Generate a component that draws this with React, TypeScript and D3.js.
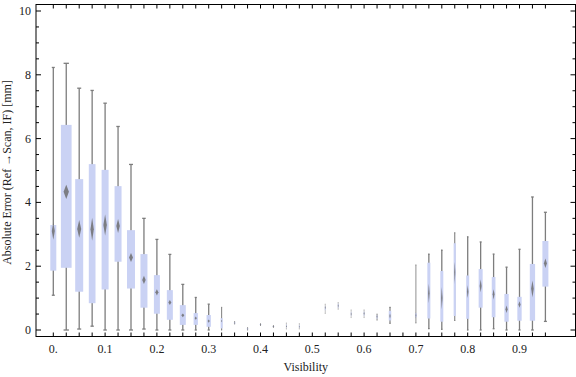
import React from "react";
import * as d3 from "d3";

// Visibility categories (one box each)
const visibility = [
  0, 0.025, 0.05, 0.075, 0.1, 0.125, 0.15, 0.175, 0.2, 0.225,
  0.25, 0.275, 0.3, 0.325, 0.35, 0.375, 0.4, 0.425, 0.45, 0.475,
  0.5, 0.525, 0.55, 0.575, 0.6, 0.625, 0.65, 0.675, 0.7, 0.725,
  0.75, 0.775, 0.8, 0.825, 0.85, 0.875, 0.9, 0.925, 0.95,
];

const whiskerLow = [
  1.09, 0, 0.03, 0.12, 0, 0, 0, 0.03, 0, 0,
  0, 0, 0, 0, 0.19, 0, 0.15, 0.09, 0.03, 0.03,
  null, 0.52, 0.65, 0.39, 0.39, 0.31, 0.21, null, 0.22, 0.04,
  0.02, 0.3, 0, 0, 0.04, 0, 0, 0, 0.27,
];
const q1 = [
  1.86, 1.95, 1.2, 0.84, 1.27, 2.14, 1.3, 0.7, 0.51, 0.32,
  0.16, 0.16, 0.1, 0.05, 0.2, 0.02, 0.16, 0.1, 0.08, 0.07,
  null, 0.62, 0.7, 0.45, 0.45, 0.36, 0.3, null, 0.4, 0.36,
  0.26, 0.44, 0.35, 0.7, 0.4, 0.26, 0.29, 0.29, 1.36,
];
const median = [
  3.1, 4.33, 3.17, 3.16, 3.29, 3.26, 2.27, 1.57, 1.18, 0.86,
  0.46, 0.37, 0.28, 0.28, 0.22, 0.04, 0.17, 0.11, 0.12, 0.1,
  null, 0.7, 0.76, 0.5, 0.52, 0.42, 0.44, null, 0.46, 1.15,
  1.0, 1.8, 1.2, 1.38, 1.12, 0.65, 0.8, 1.29, 2.09,
];
const q3 = [
  3.29, 6.43, 4.73, 5.2, 5.02, 4.51, 3.13, 2.38, 1.72, 1.25,
  0.78, 0.53, 0.47, 0.37, 0.24, 0.06, 0.18, 0.12, 0.17, 0.15,
  null, 0.74, 0.82, 0.56, 0.57, 0.46, 0.6, null, 0.53, 2.11,
  1.85, 2.72, 1.71, 1.91, 1.66, 1.13, 1.04, 2.07, 2.79,
];
const whiskerHigh = [
  8.23, 8.36, 7.58, 7.51, 7.11, 6.38, 5.19, 3.5, 2.84, 2.37,
  1.43, 1.02, 0.81, 0.71, 0.26, 0.07, 0.19, 0.13, 0.22, 0.2,
  null, 0.81, 0.86, 0.63, 0.63, 0.5, 0.71, null, 2.04, 2.38,
  2.5, 3.05, 2.92, 2.76, 2.38, 1.97, 2.53, 4.17, 3.69,
];
// half-height of the median confidence diamond
const medianCI = [
  0.27, 0.22, 0.28, 0.36, 0.33, 0.22, 0.14, 0.13, 0.1, 0.08,
  0.06, 0.05, 0.05, 0.04, 0.03, 0.03, 0.03, 0.03, 0.03, 0.03,
  null, 0.05, 0.05, 0.05, 0.05, 0.05, 0.08, null, 0.1, 0.3,
  0.35, 0.35, 0.2, 0.2, 0.16, 0.12, 0.1, 0.26, 0.15,
];
// relative sample weight (sets box width)
const sampleWeight = [
  60, 107, 80, 67, 70, 70, 80, 70, 60, 60,
  60, 43, 43, 20, 15, 15, 20, 20, 8, 8,
  null, 10, 10, 8, 10, 12, 25, null, 15, 30,
  30, 22, 30, 40, 37, 43, 43, 53, 60,
];

const xTickValues = [0, 0.1, 0.2, 0.3, 0.4, 0.5, 0.6, 0.7, 0.8, 0.9];
const xTickLabels = ["0.", "0.1", "0.2", "0.3", "0.4", "0.5", "0.6", "0.7", "0.8", "0.9"];
const yMajorTicks = [0, 2, 4, 6, 8, 10];
const yMinorTicks = [
  0, 0.5, 1, 1.5, 2, 2.5, 3, 3.5, 4, 4.5, 5, 5.5, 6, 6.5, 7, 7.5, 8, 8.5, 9, 9.5, 10,
];

const W = 576;
const H = 377;
const frame = { left: 36, right: 575.5, top: 4.5, bottom: 336.5 };

export default function App() {
  const x = d3.scaleLinear().domain([0, 0.95]).range([53.3, 545.4]);
  const y = d3.scaleLinear().domain([0, 10]).range([330, 11]);
  const w = d3.scaleLinear().domain([0, 107]).range([0, 10.7]);

  const font = "'Liberation Serif', 'Times New Roman', serif";
  const boxFill = "#cad2f4";
  const whiskerColor = "#7d7d7d";

  const items = visibility.map((v, i) => ({
    v,
    lo: whiskerLow[i],
    a: q1[i],
    m: median[i],
    b: q3[i],
    hi: whiskerHigh[i],
    ci: medianCI[i],
    n: sampleWeight[i],
  }));

  return (
    <svg
      width={W}
      height={H}
      style={{ position: "absolute", left: 0, top: 0, background: "#fff" }}
    >
      <rect x={0} y={0} width={W} height={H} fill="#fff" />
      {items.map((d, i) => {
        if (d.m == null || d.n == null) return null;
        const cx = x(d.v);
        const bw = w(d.n);
        const cap = Math.max(bw * 0.5, 1.0);
        const dw = Math.max(bw * 0.5, 0.8);
        const sw = Math.min(1.3, 0.4 + bw * 0.3);
        const wc = bw < 1.2 ? "#a8a8a8" : whiskerColor;
        return (
          <g key={i}>
            <line
              x1={cx}
              x2={cx}
              y1={y(d.lo)}
              y2={y(d.hi)}
              stroke={wc}
              strokeWidth={sw}
            />
            <line
              x1={cx - cap / 2}
              x2={cx + cap / 2}
              y1={y(d.hi)}
              y2={y(d.hi)}
              stroke={wc}
              strokeWidth={sw}
            />
            <line
              x1={cx - cap / 2}
              x2={cx + cap / 2}
              y1={y(d.lo)}
              y2={y(d.lo)}
              stroke={wc}
              strokeWidth={sw}
            />
            <rect
              x={cx - bw / 2}
              y={y(d.b)}
              width={bw}
              height={Math.max(y(d.a) - y(d.b), 0.6)}
              fill={boxFill}
            />
            <polygon
              points={[
                [cx, y(d.m + d.ci)],
                [cx + dw / 2, y(d.m)],
                [cx, y(d.m - d.ci)],
                [cx - dw / 2, y(d.m)],
              ]
                .map((p) => p.join(","))
                .join(" ")}
              fill="#6f6f6f"
              fillOpacity={0.85}
            />
          </g>
        );
      })}

      {/* frame */}
      <rect
        x={frame.left}
        y={frame.top}
        width={frame.right - frame.left}
        height={frame.bottom - frame.top}
        fill="none"
        stroke="#000"
        strokeWidth={1}
      />

      {/* x ticks at each category, bottom and top */}
      {visibility.map((v, i) => (
        <g key={"xt" + i}>
          <line x1={x(v)} x2={x(v)} y1={frame.bottom} y2={frame.bottom - 4} stroke="#000" />
          <line x1={x(v)} x2={x(v)} y1={frame.top} y2={frame.top + 4} stroke="#000" />
        </g>
      ))}
      {xTickValues.map((v, i) => (
        <text
          key={"xl" + i}
          x={x(v)}
          y={353}
          textAnchor="middle"
          fontFamily={font}
          fontSize={12}
          fill="#222"
        >
          {xTickLabels[i]}
        </text>
      ))}

      {/* y ticks */}
      {yMinorTicks.map((v, i) => {
        const major = yMajorTicks.includes(v);
        const len = major ? 5 : 3;
        return (
          <g key={"yt" + i}>
            <line x1={frame.left} x2={frame.left + len} y1={y(v)} y2={y(v)} stroke="#000" />
            <line x1={frame.right} x2={frame.right - len} y1={y(v)} y2={y(v)} stroke="#000" />
          </g>
        );
      })}
      {yMajorTicks.map((v, i) => (
        <text
          key={"yl" + i}
          x={31}
          y={y(v) + 4}
          textAnchor="end"
          fontFamily={font}
          fontSize={12}
          fill="#222"
        >
          {v}
        </text>
      ))}

      {/* axis labels */}
      <text
        x={(frame.left + frame.right) / 2}
        y={371}
        textAnchor="middle"
        fontFamily={font}
        fontSize={12}
        fill="#222"
      >
        Visibility
      </text>
      <text
        transform={`translate(11, ${(frame.top + frame.bottom) / 2 + 2}) rotate(-90)`}
        textAnchor="middle"
        fontFamily={font}
        fontSize={12}
        fill="#222"
      >
        Absolute Error (Ref →Scan, IF) [mm]
      </text>
    </svg>
  );
}
